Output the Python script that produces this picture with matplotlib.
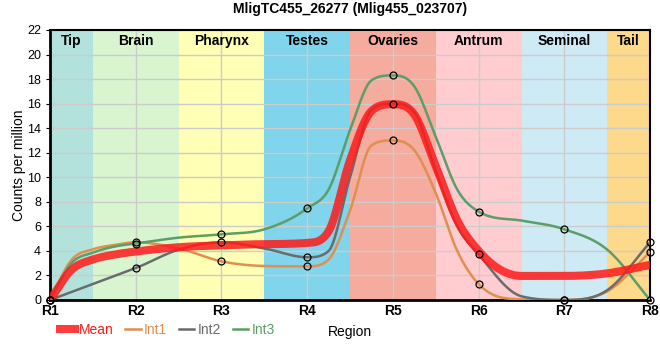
"""
    expression profile along body regions
"""

import numpy as np
import matplotlib.pyplot as plt

plt.rcParams['font.family'] = ['Liberation Sans', 'DejaVu Sans']

regions = ['R1', 'R2', 'R3', 'R4', 'R5', 'R6', 'R7', 'R8']
# sample positions along the body (0 = R1 ... 7 = R8); markers only on whole regions
pos = [0, 0.25, 0.5, 0.75, 1, 1.5, 2, 2.5, 3, 3.25, 3.5, 3.75, 4,
       4.25, 4.5, 4.75, 5, 5.5, 6, 6.5, 7]
mean = [0, 2.45, 3.3, 3.7, 3.95, 4.3, 4.45, 4.55, 4.65, 5.6, 11.4, 15.4, 15.95,
        15.1, 10.9, 6.5, 4.0, 1.96, 1.96, 2.17, 2.87]
int1 = [0, 3.26, 4.13, 4.48, 4.7, 4.2, 3.15, 2.77, 2.74, 3.3, 7.3, 12.6, 13.0,
        12.2, 8.7, 4.0, 1.3, 0.05, 0, 0.7, 3.9]
int2 = [0, 0.65, 1.3, 1.95, 2.6, 4.1, 4.7, 4.2, 3.48, 4.0, 10.0, 15.5, 16.0,
        15.3, 10.5, 6.0, 3.72, 0.3, 0, 0.8, 4.7]
int3 = [0, 3.0, 3.86, 4.35, 4.6, 5.08, 5.35, 5.76, 7.47, 9.0, 13.85, 17.9, 18.3,
        17.4, 13.3, 9.0, 7.2, 6.47, 5.76, 4.1, 0]

band_names = ['Tip', 'Brain', 'Pharynx', 'Testes', 'Ovaries', 'Antrum', 'Seminal', 'Tail']
band_edges = [0, 0.5, 1.5, 2.5, 3.5, 4.5, 5.5, 6.5, 7]
band_colors = ['#b3e2dd', '#d9f5d0', '#ffffb5', '#80d4eb', '#f5ab9d',
               '#ffccd0', '#ceeaf4', '#fdd98b']


def smooth(x, y, n=30):
    # cubic hermite: centred tangents, flat at extrema, clamped against overshoot
    x = np.asarray(x, float)
    y = np.asarray(y, float)
    h = np.diff(x)
    d = np.diff(y) / h
    m = np.zeros(len(y))
    m[0], m[-1] = d[0], d[-1]
    for i in range(1, len(y) - 1):
        if d[i - 1] * d[i] > 0:
            m[i] = (d[i - 1] * h[i] + d[i] * h[i - 1]) / (h[i - 1] + h[i])
    for i in range(len(d)):
        if d[i] == 0:
            m[i] = m[i + 1] = 0
            continue
        a, b = m[i] / d[i], m[i + 1] / d[i]
        if a * a + b * b > 9:
            tau = 3 / np.sqrt(a * a + b * b)
            m[i], m[i + 1] = tau * a * d[i], tau * b * d[i]
    xs, ys = [], []
    for i in range(len(y) - 1):
        t = np.linspace(0, 1, n)
        h00 = 2 * t**3 - 3 * t**2 + 1
        h10 = t**3 - 2 * t**2 + t
        h01 = -2 * t**3 + 3 * t**2
        h11 = t**3 - t**2
        xs.append(x[i] + t * h[i])
        ys.append(h00 * y[i] + h10 * h[i] * m[i] + h01 * y[i + 1] + h11 * h[i] * m[i + 1])
    return np.concatenate(xs), np.concatenate(ys)


fig = plt.figure(figsize=(6.6, 3.6), dpi=100)
ax = fig.add_axes([0.0758, 0.1667, 0.9092, 0.75])

for i, name in enumerate(band_names):
    ax.axvspan(band_edges[i], band_edges[i + 1], color=band_colors[i], lw=0, zorder=0)
    ax.text((band_edges[i] + band_edges[i + 1]) / 2, 21.1, name, ha='center', va='center',
            fontsize=10, fontweight='bold', zorder=5)

ax.grid(color='#cccccc', lw=1, zorder=1)
ax.set_axisbelow(True)

pos_arr = np.array(pos)
whole = pos_arr == np.round(pos_arr)
series = [('Int1', int1, '#e08f4f', 1.8, 3),
          ('Int2', int2, '#6b6b6b', 1.8, 3),
          ('Int3', int3, '#5c9e68', 1.8, 3),
          ('Mean', mean, '#ff1a1a', 5.8, 4)]
handles = {}
for name, vals, col, lw, z in series:
    xs, ys = smooth(pos, vals)
    alpha = 0.85 if name == 'Mean' else 1
    h, = ax.plot(xs, ys, color=col, lw=lw, alpha=alpha, zorder=z, label=name)
    if name != 'Mean':
        ax.plot(pos_arr[whole], np.array(vals)[whole], 'o', ms=5, mfc='none',
                mec='black', mew=0.9, zorder=6, clip_on=False)
    handles[name] = h

ax.set_xlim(0, 7)
ax.set_ylim(0, 22)
ax.set_yticks(range(0, 23, 2))
ax.set_xticks(range(8))
ax.set_xticklabels(regions, fontsize=10, fontweight='bold')
ax.tick_params(axis='y', labelsize=9, length=3)
ax.tick_params(axis='x', length=0, pad=3)
for s in ax.spines.values():
    s.set_linewidth(1.5)
ax.spines['left'].set_linewidth(2)
ax.spines['bottom'].set_linewidth(2)

ax.set_ylabel('Counts per million', fontsize=10, labelpad=1)
ax.set_xlabel('Region', fontsize=10, labelpad=5)
ax.set_title('MligTC455_26277 (Mlig455_023707)', fontsize=10, fontweight='bold', pad=12)

order = ['Mean', 'Int1', 'Int2', 'Int3']
leg = fig.legend([handles[k] for k in order], order, loc='lower left',
                 bbox_to_anchor=(0.072, 0.03), ncol=4, frameon=False, fontsize=10,
                 handlelength=1.1, handletextpad=0.25, columnspacing=0.85)
colors = {s[0]: s[2] for s in series}
for t, k in zip(leg.get_texts(), order):
    t.set_color(colors[k])

plt.savefig('out.png')
plt.close()
